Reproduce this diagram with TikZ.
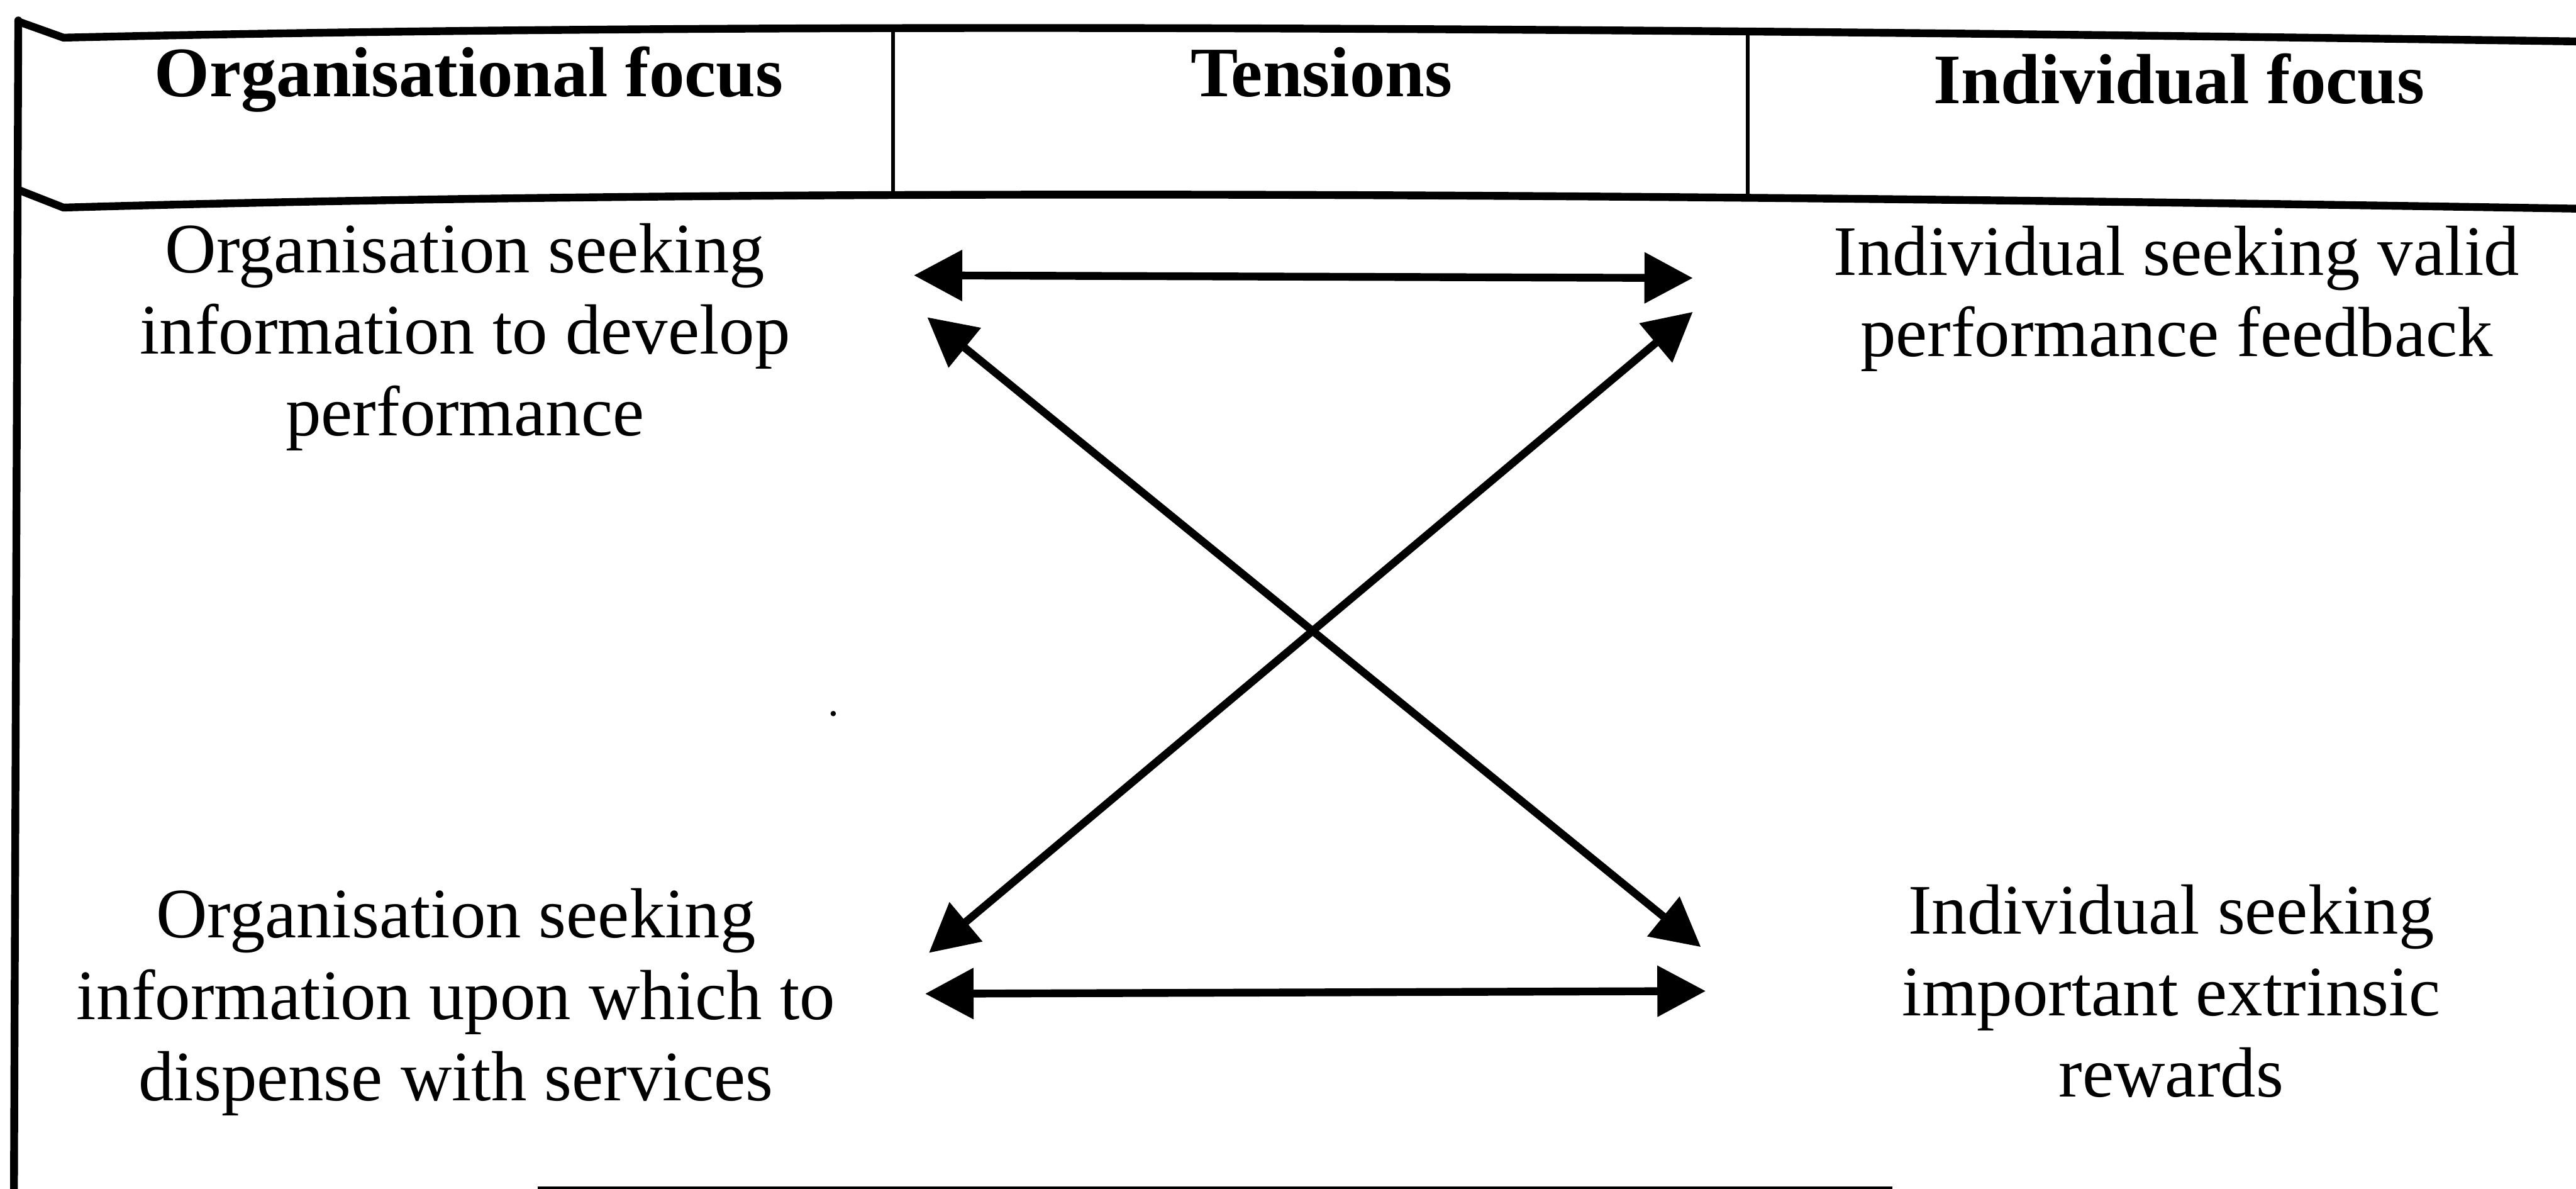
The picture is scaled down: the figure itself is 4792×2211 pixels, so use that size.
\documentclass[tikz,border=0pt]{standalone}
\usepackage{fontspec}
\setmainfont{Liberation Serif}
\usetikzlibrary{arrows.meta}
\begin{document}
\begin{tikzpicture}[x=0.1pt,y=-0.1pt,
  rule/.style={line width=1.45pt, line cap=round, line join=round},
  thinrule/.style={line width=0.75pt},
  head/.style={font=\fontsize{13.2pt}{15.15pt}\selectfont\bfseries, anchor=base, inner sep=0pt},
  % multi-line cells: the base anchor sits on the last line
  cell/.style={font=\fontsize{13.2pt}{15.15pt}\selectfont, align=center, anchor=base, inner sep=0pt},
  pullarrow/.style={line width=1.45pt, {Triangle[length=9pt,width=9.2pt]}-{Triangle[length=9pt,width=9.2pt]}}
]
\useasboundingbox (0,0) rectangle (4792,2211);

% table frame: left edge, header rules and column dividers
\draw[rule] (34,38) -- (26,2211);
\draw[rule] (34,40) -- (118,70) .. controls (1200,45) and (2600,45) .. (4792,77);
\draw[rule] (34,353) -- (118,386) .. controls (1200,355) and (2600,352) .. (4792,388);
\draw[thinrule] (1661,55) -- (1661,360);
\draw[thinrule] (3251,62) -- (3251,372);
\draw[line width=0.6pt] (1000,2209) -- (3520,2209);

% column headings
\node[head] (hOrg) at (872,180) {Organisational focus};
\node[head] (hTen) at (2458,180) {Tensions};
\node[head] (hInd) at (4054,192) {Individual focus};

% the four positions
\node[cell] (orgDev) at (865,810) {Organisation seeking\\information to develop\\performance};
\node[cell] (indFb) at (4049,663) {Individual seeking valid\\performance feedback};
\node[cell] (orgDis) at (848,2047) {Organisation seeking\\information upon which to\\dispense with services};
\node[cell] (indRew) at (4039,2040) {Individual seeking\\important extrinsic\\rewards};

% arrow ends
\coordinate (aTL) at (1700,512);
\coordinate (aTR) at (3149,517);
\coordinate (dTL) at (1725,590);
\coordinate (dTR) at (3149,580);
\coordinate (dBL) at (1728,1772);
\coordinate (dBR) at (3164,1761);
\coordinate (aBL) at (1721,1848);
\coordinate (aBR) at (3173,1843);

% tensions between the positions
\draw[pullarrow] (aTL) -- (aTR);
\draw[pullarrow] (dTL) -- (dBR);
\draw[pullarrow] (dTR) -- (dBL);
\draw[pullarrow] (aBL) -- (aBR);

\fill (1550,1327) circle (0.5pt);
\end{tikzpicture}
\end{document}
